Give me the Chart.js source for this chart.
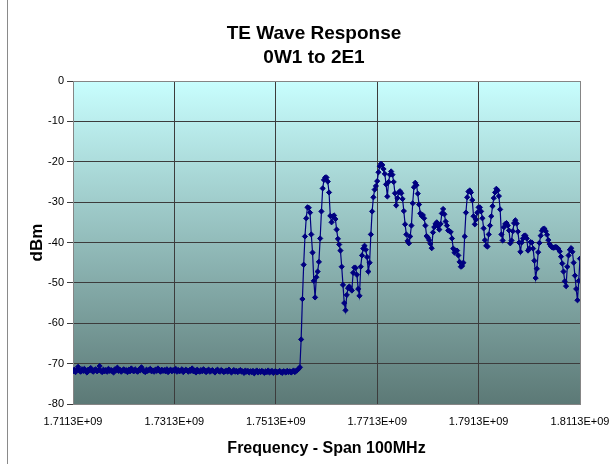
<!DOCTYPE html>
<html>
<head>
<meta charset="utf-8">
<script src="https://cdn.jsdelivr.net/npm/chart.js@4.4.1/dist/chart.umd.min.js"></script>
<style>
  html, body { margin: 0; padding: 0; background: #ffffff; }
  #wrap { width: 615px; height: 464px; position: relative; }
</style>
</head>
<body>
<div id="wrap"><canvas id="chart" width="615" height="464"></canvas></div>
<script>
// Titles
const chartTitle = ['TE Wave Response', '0W1 to 2E1'];
const xAxisTitle = 'Frequency - Span 100MHz';
const yAxisTitle = 'dBm';

// Sweep: 401 points, 0.25 MHz apart, starting at 1.7113 GHz
const sweepStartHz = 1.7113e9;
const sweepStepHz = 0.25e6;

// Measured level (dBm), noise floor part
const floorDbm = [
  -71.9,-71.5,-72.1,-71.6,-70.8,-71.7,-72.0,-71.4,-71.8,-71.3,
  -71.9,-72.2,-71.5,-71.7,-71.1,-71.8,-72.0,-71.6,-71.4,-71.9,
  -71.7,-70.6,-71.8,-72.1,-71.5,-71.9,-71.6,-72.0,-71.3,-71.8,
  -71.6,-71.9,-72.2,-71.4,-71.7,-71.0,-71.8,-71.5,-72.0,-71.7,
  -71.4,-71.8,-71.6,-72.1,-71.5,-71.9,-71.2,-71.7,-71.9,-71.4,
  -71.8,-72.0,-71.5,-71.7,-70.9,-71.6,-71.9,-72.1,-71.5,-71.8,
  -71.6,-71.3,-71.9,-71.7,-72.0,-71.5,-71.8,-71.2,-71.7,-72.0,
  -71.5,-71.8,-71.6,-71.9,-71.4,-72.1,-71.7,-71.5,-71.9,-71.6,
  -71.8,-71.3,-72.0,-71.6,-71.9,-71.7,-71.4,-72.1,-71.8,-71.5,
  -71.7,-72.0,-71.6,-71.8,-71.2,-71.9,-71.7,-72.2,-71.5,-71.8,
  -72.0,-71.6,-71.9,-71.4,-71.8,-72.1,-71.7,-71.5,-72.0,-71.8,
  -71.6,-71.9,-72.2,-71.7,-71.5,-71.9,-72.0,-71.6,-71.8,-72.1,
  -71.9,-71.7,-72.0,-71.5,-71.8,-72.2,-71.9,-71.6,-72.0,-71.8,
  -72.1,-71.8,-71.6,-72.0,-71.9,-72.3,-71.7,-72.0,-71.8,-72.2,
  -71.9,-72.1,-71.8,-72.4,-72.0,-71.7,-72.2,-71.9,-72.1,-71.8,
  -72.0,-72.3,-71.9,-72.1,-71.7,-72.2,-72.0,-71.8,-72.3,-72.0,
  -71.9,-72.2,-72.0,-71.8,-72.1,-72.3,-71.9,-72.0,-72.2,-71.8,
  -72.1,-71.9,-72.2,-72.0,-71.7,-72.1,-71.8,-71.6,-71.3,-70.9
];

// Measured level (dBm), response band from 1.7563 GHz on
const bandDbm = [
  -64.0,-54.0,-45.5,-38.5,-34.0,-31.3,-31.4,-32.6,-38.0,-42.5,
  -49.5,-53.6,-48.6,-47.2,-44.8,-39.0,-32.3,-26.6,-24.5,-23.9,
  -23.9,-24.9,-27.6,-33.4,-35.0,-33.5,-33.3,-34.2,-36.8,-39.1,
  -40.5,-42.0,-46.0,-50.5,-55.0,-56.8,-53.0,-51.3,-50.9,-51.5,
  -51.9,-47.5,-46.2,-46.3,-48.0,-51.5,-53.2,-46.0,-43.2,-41.5,
  -40.8,-41.8,-43.6,-47.2,-45.0,-38.0,-32.3,-28.8,-26.9,-26.0,
  -24.8,-22.6,-21.1,-20.5,-20.8,-21.8,-23.0,-25.6,-28.6,-25.0,
  -23.2,-22.4,-23.2,-25.0,-27.8,-30.8,-29.0,-27.6,-27.3,-27.8,
  -29.2,-32.2,-35.5,-38.0,-39.6,-40.2,-38.5,-35.8,-30.3,-26.3,
  -25.2,-25.8,-27.9,-30.6,-32.8,-33.4,-33.2,-34.0,-35.8,-38.4,
  -38.8,-39.4,-40.3,-41.4,-37.5,-36.2,-35.4,-35.0,-36.0,-36.8,
  -35.4,-32.8,-31.7,-33.0,-34.8,-35.8,-37.0,-37.2,-37.4,-39.0,
  -41.5,-42.5,-42.0,-42.0,-43.2,-44.8,-46.0,-45.8,-45.0,-38.5,
  -32.6,-28.8,-27.4,-27.1,-27.6,-29.5,-33.5,-35.5,-34.3,-32.6,
  -31.3,-31.3,-32.3,-34.0,-36.5,-39.4,-40.8,-41.0,-38.0,-35.8,
  -33.5,-31.0,-29.0,-27.6,-26.7,-27.1,-28.5,-31.8,-38.0,-39.5,
  -36.2,-35.4,-35.2,-35.8,-37.0,-40.2,-39.5,-37.2,-35.2,-34.5,
  -35.3,-37.3,-40.0,-42.3,-40.0,-39.0,-38.3,-38.3,-39.0,-42.0,
  -41.5,-39.9,-40.0,-41.5,-44.5,-48.8,-46.5,-42.4,-40.1,-38.3,
  -37.1,-36.6,-36.6,-37.2,-38.1,-39.4,-40.4,-40.9,-41.2,-41.3,
  -41.2,-41.1,-41.3,-41.6,-42.2,-43.5,-45.2,-47.2,-49.6,-50.8,
  -46.0,-43.2,-41.8,-41.4,-42.3,-45.0,-48.2,-51.5,-54.3,-49.5,
  -44.0
];

// Axis ticks
const xTickValues = [1.7113e9, 1.7313e9, 1.7513e9, 1.7713e9, 1.7913e9, 1.8113e9];
const xTickLabels = ['1.7113E+09', '1.7313E+09', '1.7513E+09', '1.7713E+09', '1.7913E+09', '1.8113E+09'];
const yTickValues = [0, -10, -20, -30, -40, -50, -60, -70, -80];
const yTickLabels = ['0', '-10', '-20', '-30', '-40', '-50', '-60', '-70', '-80'];

const levelDbm = floorDbm.concat(bandDbm);
const sweepPoints = levelDbm.map((v, i) => ({ x: sweepStartHz + i * sweepStepHz, y: v }));

const FONT = '"Liberation Sans", Arial, Helvetica, sans-serif';

// Plot-area gradient and the page frame line
const backdrop = {
  id: 'backdrop',
  beforeDraw(chart) {
    const { ctx, chartArea: a } = chart;
    ctx.save();
    const g = ctx.createLinearGradient(0, a.top, 0, a.bottom);
    g.addColorStop(0, '#c8fefe');
    g.addColorStop(1, '#5c7976');
    ctx.fillStyle = g;
    ctx.fillRect(a.left, a.top, a.right - a.left, a.bottom - a.top);
    ctx.strokeStyle = '#8a8a8a';
    ctx.lineWidth = 1;
    ctx.beginPath();
    ctx.moveTo(7.5, 0);
    ctx.lineTo(7.5, chart.height);
    ctx.stroke();
    ctx.restore();
  }
};

// Two-line heading
const heading = {
  id: 'heading',
  afterDraw(chart) {
    const { ctx } = chart;
    ctx.save();
    ctx.fillStyle = '#000';
    ctx.font = 'bold 19px ' + FONT;
    ctx.textAlign = 'center';
    ctx.textBaseline = 'alphabetic';
    ctx.fillText(chartTitle[0], 314, 39);
    ctx.fillText(chartTitle[1], 314, 63);
    ctx.restore();
  }
};

const edge = (c, dark) => c.tick && (c.index === 0 || c.index === c.scale.ticks.length - 1) ? '#858585' : dark;

new Chart(document.getElementById('chart'), {
  type: 'line',
  data: {
    datasets: [{
      data: sweepPoints,
      borderColor: '#000080',
      borderWidth: 1.2,
      backgroundColor: '#000080',
      pointStyle: 'rectRot',
      pointRadius: 2.6,
      pointBorderWidth: 1,
      pointBackgroundColor: '#000080',
      pointBorderColor: '#000080',
      tension: 0,
      fill: false
    }]
  },
  options: {
    responsive: false,
    animation: false,
    devicePixelRatio: 1,
    layout: { padding: { left: 0, right: 35, top: 81, bottom: 0 } },
    plugins: { legend: { display: false }, tooltip: { enabled: false }, title: { display: false } },
    scales: {
      x: {
        type: 'linear',
        min: xTickValues[0],
        max: xTickValues[xTickValues.length - 1],
        afterBuildTicks: s => { s.ticks = xTickValues.map(v => ({ value: v })); },
        afterFit: s => { s.height = 60; s.paddingLeft = 0; s.paddingRight = 0; },
        ticks: {
          autoSkip: false, maxRotation: 0, padding: 11,
          color: '#000', font: { family: FONT, size: 11 },
          callback: (v, i) => xTickLabels[i]
        },
        grid: { color: c => edge(c, '#3c3c3c'), lineWidth: 1, drawTicks: false },
        border: { color: '#858585', width: 1 },
        title: { display: true, text: xAxisTitle, color: '#000', font: { family: FONT, size: 16, weight: 'bold' }, padding: { top: 0, bottom: 6 } }
      },
      y: {
        type: 'linear',
        min: yTickValues[yTickValues.length - 1],
        max: yTickValues[0],
        afterBuildTicks: s => { s.ticks = yTickValues.map(v => ({ value: v })); },
        afterFit: s => { s.width = 73; s.paddingTop = 0; s.paddingBottom = 0; },
        ticks: {
          padding: 3, color: '#000', font: { family: FONT, size: 11 },
          callback: (v, i) => yTickLabels[i]
        },
        grid: { color: c => edge(c, '#3c3c3c'), lineWidth: 1, tickLength: 6, tickColor: '#3c3c3c' },
        border: { color: '#858585', width: 1 },
        title: { display: true, text: yAxisTitle, color: '#000', font: { family: FONT, size: 17, weight: 'bold' }, padding: { top: 27, bottom: 0 } }
      }
    }
  },
  plugins: [backdrop, heading]
});
</script>
</body>
</html>
